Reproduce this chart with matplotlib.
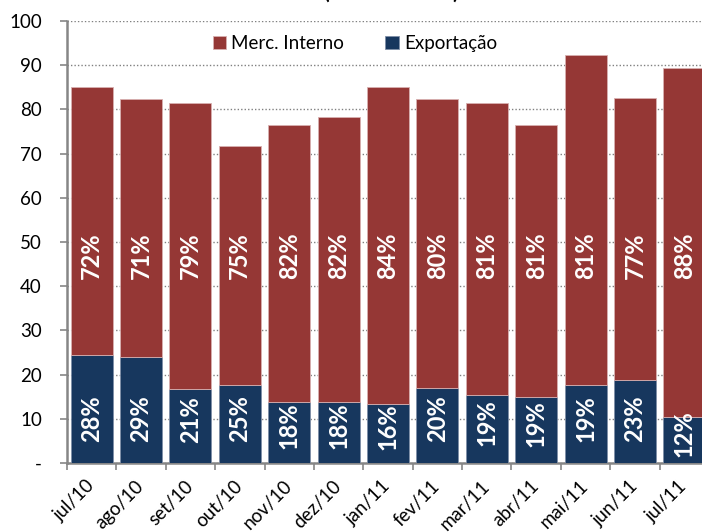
import matplotlib
matplotlib.use('Agg')
import matplotlib.pyplot as plt
import numpy as np

# Datos (mil toneladas)
meses = ['jul/10', 'ago/10', 'set/10', 'out/10', 'nov/10', 'dez/10', 'jan/11',
         'fev/11', 'mar/11', 'abr/11', 'mai/11', 'jun/11', 'jul/11']
exportacao = [24.4, 24.0, 16.7, 17.6, 13.9, 13.9, 13.3, 16.9, 15.3, 14.9, 17.6, 18.8, 10.5]
merc_interno = [60.7, 58.4, 64.7, 54.2, 62.5, 64.3, 71.8, 65.5, 66.2, 61.6, 74.6, 63.7, 78.9]
pct_interno = ['72%', '71%', '79%', '75%', '82%', '82%', '84%', '80%', '81%', '81%', '81%', '77%', '88%']
pct_exportacao = ['28%', '29%', '21%', '25%', '18%', '18%', '16%', '20%', '19%', '19%', '19%', '23%', '12%']
yticks = [0, 10, 20, 30, 40, 50, 60, 70, 80, 90, 100]
ytick_labels = ['-', '10', '20', '30', '40', '50', '60', '70', '80', '90', '100']

plt.rcParams['font.family'] = ['Lato', 'DejaVu Sans']

cor_interno = '#953735'
cor_export = '#17375E'
cinza = '#868686'

fig = plt.figure(figsize=(7.02, 5.32), dpi=100)
ax = fig.add_axes([67 / 702, 69 / 532, 642 / 702, 442 / 532])

x = np.arange(len(meses))
ax.bar(x, exportacao, width=0.85, color=cor_export, edgecolor='#7f8fa8', linewidth=0.6,
       label='Exportação', zorder=3)
ax.bar(x, merc_interno, width=0.85, bottom=exportacao, color=cor_interno,
       edgecolor='#d8b0b0', linewidth=0.6, label='Merc. Interno', zorder=3)

# etiquetas de porcentaje dentro de las barras
for i in range(len(meses)):
    y_exp = min(exportacao[i] / 2 + 1.5, 10)
    ax.text(x[i], y_exp, pct_exportacao[i], rotation=90, ha='center', va='center',
            color='white', fontsize=17, fontweight='bold', zorder=4)
    ax.text(x[i], 47, pct_interno[i], rotation=90, ha='center', va='center',
            color='white', fontsize=17, fontweight='bold', zorder=4)

ax.set_xlim(-0.5, 12.5)
ax.set_ylim(0, 100)
ax.set_yticks(yticks)
ax.set_yticklabels(ytick_labels, fontsize=13.5)
ax.tick_params(axis='y', length=5, width=1.2, color=cinza, pad=13)

ax.set_xticks(x)
ax.set_xticklabels(meses, fontsize=13.5, rotation=45, ha='right', va='center',
                   rotation_mode='anchor')
ax.tick_params(axis='x', which='major', length=0, pad=14.5)
ax.set_xticks(np.arange(-0.5, 13, 1), minor=True)
ax.tick_params(axis='x', which='minor', length=5, width=1.2, color=cinza)

ax.grid(axis='y', linestyle=(0, (1, 1.5)), color='#808080', linewidth=1.0, zorder=0)
for lado in ['top', 'right']:
    ax.spines[lado].set_visible(False)
for lado in ['left', 'bottom']:
    ax.spines[lado].set_color(cinza)
    ax.spines[lado].set_linewidth(1.8)

handles, labels = ax.get_legend_handles_labels()
ax.legend(handles[::-1], labels[::-1], loc='upper center', bbox_to_anchor=((355 - 67) / 642, 0.985),
          ncol=2, frameon=False, fontsize=13.5, handlelength=0.7, handleheight=0.7,
          handletextpad=0.3, columnspacing=2.2, borderaxespad=0)

# titulo cortado arriba (solo se ven los parentesis)
fig.text(391 / 702, 1.003, '(mil toneladas)', ha='center', va='baseline',
         fontsize=15, fontweight='bold')

fig.savefig('out.png', dpi=100)
